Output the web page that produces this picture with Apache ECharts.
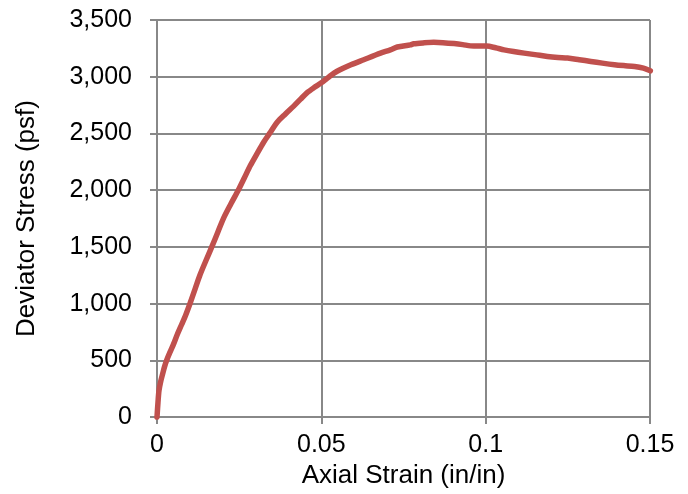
<!DOCTYPE html>
<html>
<head>
<meta charset="utf-8">
<script src="https://cdn.jsdelivr.net/npm/echarts@6/dist/echarts.min.js"></script>
<style>html,body{margin:0;padding:0;background:#fff}#c{width:688px;height:494px}</style>
</head>
<body>
<div id="c"></div>
<script>
var strain = [0, 0.0003, 0.0006, 0.0011, 0.0017, 0.0023, 0.0030, 0.0040, 0.0050, 0.0062, 0.0075, 0.0088, 0.0101, 0.0116, 0.0131, 0.0149, 0.0167, 0.0185, 0.0202, 0.0225, 0.0248, 0.0266, 0.0284, 0.0304, 0.0324, 0.0345, 0.0365, 0.0390, 0.0416, 0.0436, 0.0456, 0.0478, 0.0500, 0.0524, 0.0548, 0.0590, 0.0629, 0.0680, 0.0710, 0.0731, 0.0771, 0.0781, 0.0810, 0.0842, 0.0870, 0.0904, 0.0930, 0.0954, 0.0980, 0.1003, 0.1030, 0.1056, 0.1085, 0.1117, 0.1150, 0.1188, 0.1220, 0.1249, 0.1285, 0.1320, 0.1355, 0.1392, 0.1420, 0.1453, 0.1480, 0.1501];
var stress = [0, 130, 234, 310, 379, 445, 505, 575, 641, 730, 816, 905, 1006, 1130, 1254, 1380, 1502, 1630, 1750, 1880, 2004, 2110, 2217, 2320, 2421, 2510, 2596, 2670, 2741, 2800, 2858, 2905, 2946, 3000, 3048, 3105, 3150, 3208, 3237, 3262, 3281, 3290, 3298, 3303, 3300, 3292, 3283, 3272, 3270, 3270, 3255, 3237, 3222, 3208, 3195, 3179, 3170, 3165, 3150, 3135, 3120, 3106, 3098, 3090, 3075, 3052];
var xTicks = [0, 0.05, 0.1, 0.15];
var yTicks = [0, 500, 1000, 1500, 2000, 2500, 3000, 3500];

var pts = strain.map(function (s, i) { return [s, stress[i]]; });
var chart = echarts.init(document.getElementById('c'), null, {renderer: 'canvas'});
var gray = '#888888';
var font = '"Liberation Sans", Arial, sans-serif';
chart.setOption({
  animation: false,
  grid: {left: 157, right: 38, top: 20, bottom: 74, containLabel: false},
  xAxis: {
    type: 'value', min: xTicks[0], max: xTicks[xTicks.length - 1], interval: 0.05,
    name: 'Axial Strain (in/in)', nameLocation: 'middle', nameGap: 44,
    nameTextStyle: {fontFamily: font, fontSize: 26, color: '#000'},
    axisLine: {show: true, lineStyle: {color: gray, width: 2}},
    axisTick: {show: true, length: 7, lineStyle: {color: gray, width: 2}},
    splitLine: {show: true, lineStyle: {color: gray, width: 2}},
    axisLabel: {fontFamily: font, fontSize: 25, color: '#000', margin: 16,
      formatter: function (v) { return String(+v.toFixed(2)); }}
  },
  yAxis: {
    type: 'value', min: yTicks[0], max: yTicks[yTicks.length - 1], interval: 500,
    name: 'Deviator Stress (psf)', nameLocation: 'middle', nameGap: 117,
    nameTextStyle: {fontFamily: font, fontSize: 26, color: '#000'},
    axisLine: {show: true, lineStyle: {color: gray, width: 2}},
    axisTick: {show: true, length: 7, lineStyle: {color: gray, width: 2}},
    splitLine: {show: true, lineStyle: {color: gray, width: 2}},
    axisLabel: {fontFamily: font, fontSize: 25, color: '#000', margin: 25,
      formatter: function (v) { return v.toLocaleString('en-US'); }}
  },
  series: [{
    type: 'line', data: pts, showSymbol: false, smooth: 0.3,
    lineStyle: {color: '#C0504D', width: 5.5, cap: 'round', join: 'round'},
    clip: false
  }]
});
</script>
</body>
</html>
